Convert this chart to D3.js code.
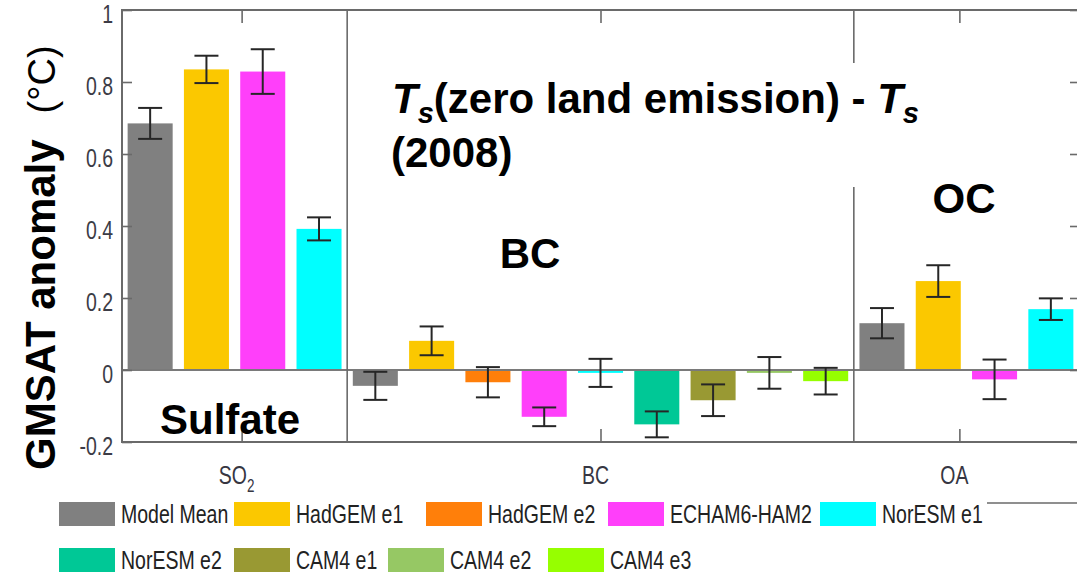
<!DOCTYPE html>
<html>
<head>
<meta charset="utf-8">
<script src="https://cdn.jsdelivr.net/npm/d3@7"></script>
<style>
  body { margin: 0; background: #fff; }
  svg { display: block; }
</style>
</head>
<body>
<svg id="chart" width="1077" height="577"></svg>
<script>
// ---- data -------------------------------------------------------------
const models = ["Model Mean", "HadGEM e1", "HadGEM e2", "ECHAM6-HAM2", "NorESM e1",
                "NorESM e2", "CAM4 e1", "CAM4 e2", "CAM4 e3"];
const modelColors = ["#808080", "#fbc800", "#ff7f0a", "#ff3ffa", "#00ffff",
                     "#00c896", "#999933", "#96c864", "#96ff00"];

const categories = ["SO2", "BC", "OA"];
const yTicks = [-0.2, 0, 0.2, 0.4, 0.6, 0.8, 1];
const yTickLabels = ["-0.2", "0", "0.2", "0.4", "0.6", "0.8", "1"];

// SO2 (sulfate) experiment
const so2Models = ["Model Mean", "HadGEM e1", "ECHAM6-HAM2", "NorESM e1"];
const so2Values = [0.685, 0.835, 0.829, 0.392];
const so2Errors = [0.043, 0.038, 0.062, 0.032];

// BC experiment
const bcModels = models;
const bcValues = [-0.044, 0.081, -0.034, -0.130, -0.008, -0.151, -0.084, -0.008, -0.031];
const bcErrors = [0.039, 0.040, 0.042, 0.026, 0.039, 0.036, 0.044, 0.044, 0.037];

// OA (organic carbon) experiment
const oaModels = ["Model Mean", "HadGEM e1", "ECHAM6-HAM2", "NorESM e1"];
const oaValues = [0.130, 0.247, -0.026, 0.169];
const oaErrors = [0.042, 0.044, 0.055, 0.030];

// ---- layout -------------------------------------------------------------
const plot = { left: 122, right: 1079, top: 10, bottom: 442 };
const svg = d3.select("#chart");
const FONT = "'Liberation Sans', Arial, Helvetica, sans-serif";
const SQUEEZE = 0.78;   // narrow face used by the axis and legend labels

const groups = [
  { cat: "SO2", models: so2Models, values: so2Values, errors: so2Errors },
  { cat: "BC",  models: bcModels,  values: bcValues,  errors: bcErrors },
  { cat: "OA",  models: oaModels,  values: oaValues,  errors: oaErrors }
];
const bars = [];
groups.forEach(g => g.models.forEach((m, i) => bars.push({
  key: g.cat + "|" + m, cat: g.cat, model: m, value: g.values[i], err: g.errors[i]
})));

const x = d3.scaleBand()
  .domain(bars.map(d => d.key))
  .range([plot.left, plot.right])
  .paddingInner(0.2)
  .paddingOuter(0.1);

// category axis: one unit per experiment
const xCat = d3.scaleLinear().domain([2 / 3, 10 / 3]).range([plot.left, plot.right]);

const y = d3.scaleLinear().domain([-0.2, 1]).range([plot.bottom, plot.top]);

const color = d3.scaleOrdinal().domain(models).range(modelColors);

// ---- bars -------------------------------------------------------------
svg.append("g").selectAll("rect")
  .data(bars).join("rect")
  .attr("x", d => x(d.key))
  .attr("width", x.bandwidth())
  .attr("y", d => y(Math.max(0, d.value)))
  .attr("height", d => Math.abs(y(d.value) - y(0)))
  .attr("fill", d => color(d.model));

// zero line
svg.append("line")
  .attr("x1", plot.left).attr("x2", plot.right)
  .attr("y1", y(0)).attr("y2", y(0))
  .attr("stroke", "#7a7a7a").attr("stroke-width", 2);

// error bars
const capHalf = 12;
const eb = svg.append("g").attr("stroke", "#262626").attr("stroke-width", 2);
bars.forEach(d => {
  const cx = x(d.key) + x.bandwidth() / 2;
  const y1 = y(d.value + d.err), y2 = y(d.value - d.err);
  eb.append("line").attr("x1", cx).attr("x2", cx).attr("y1", y1).attr("y2", y2);
  eb.append("line").attr("x1", cx - capHalf).attr("x2", cx + capHalf).attr("y1", y1).attr("y2", y1);
  eb.append("line").attr("x1", cx - capHalf).attr("x2", cx + capHalf).attr("y1", y2).attr("y2", y2);
});

// group separators at the band boundaries
const sepPad = x.step() * x.paddingInner() / 2;
const separators = [x("BC|" + bcModels[0]) - sepPad, x("OA|" + oaModels[0]) - sepPad];
svg.append("g").selectAll("line").data(separators).join("line")
  .attr("x1", d => d).attr("x2", d => d)
  .attr("y1", plot.top).attr("y2", plot.bottom)
  .attr("stroke", "#6a6a6a").attr("stroke-width", 1.6);

// ---- axes -------------------------------------------------------------
const axisColor = "#6a6a6a";
function styleAxis(g) {
  g.select(".domain").remove();
  g.selectAll(".tick line").attr("stroke", axisColor).attr("stroke-width", 1.6);
}

const yAxis = svg.append("g")
  .attr("transform", `translate(${plot.left},0)`)
  .call(d3.axisLeft(y).tickValues(yTicks).tickSize(-10)
        .tickFormat((d, i) => yTickLabels[i]))
  .call(styleAxis);
yAxis.selectAll(".tick text")
  .attr("font-family", FONT).attr("font-size", 25).attr("fill", "#3c3c46")
  .attr("x", -9 / SQUEEZE).attr("dy", 12)
  .attr("transform", `scale(${SQUEEZE},1)`);

svg.append("g")
  .attr("transform", `translate(${plot.right},0)`)
  .call(d3.axisRight(y).tickValues(yTicks).tickSize(-9).tickFormat(""))
  .call(styleAxis);

svg.append("g")
  .attr("transform", `translate(0,${plot.top})`)
  .call(d3.axisTop(xCat).tickValues([1, 2, 3]).tickSize(-13).tickFormat(""))
  .call(styleAxis);

svg.append("g")
  .attr("transform", `translate(0,${plot.bottom})`)
  .call(d3.axisBottom(xCat).tickValues([1, 2, 3]).tickSize(-13).tickFormat(""))
  .call(styleAxis);

// category labels under the axis (SO2 with subscript)
categories.forEach((c, i) => {
  const g = svg.append("g")
    .attr("transform", `translate(${xCat(i + 1) - 5},484) scale(${SQUEEZE * 0.96},1)`);
  const t = g.append("text")
    .attr("font-family", FONT).attr("font-size", 26).attr("fill", "#363642")
    .attr("text-anchor", "middle");
  const m = c.match(/^([A-Z]+)(\d*)$/);
  t.append("tspan").text(m[1]);
  if (m[2]) t.append("tspan").attr("font-size", 18).attr("dy", 8).text(m[2]);
});

// plot frame
svg.append("path")
  .attr("d", `M${plot.right},${plot.top}H${plot.left}V${plot.bottom}H${plot.right}`)
  .attr("fill", "none").attr("stroke", axisColor).attr("stroke-width", 2);

// ---- y axis title -------------------------------------------------------
const yTitle = svg.append("text")
  .attr("transform", "translate(55,470) rotate(-90)")
  .attr("font-family", FONT).attr("fill", "#000");
yTitle.append("tspan").attr("font-weight", "bold").attr("font-size", 42).text("GMSAT anomaly");
yTitle.append("tspan").attr("font-size", 38).attr("dx", 26).text("(°C)");

// ---- annotations ---------------------------------------------------------
// white panel behind the formula
svg.append("rect")
  .attr("x", 380).attr("y", 63).attr("width", 565).attr("height", 124)
  .attr("fill", "#fff");

const formula = svg.append("text")
  .attr("x", 392).attr("y", 113)
  .attr("font-family", FONT).attr("font-weight", "bold").attr("font-size", 42).attr("fill", "#000");
formula.append("tspan").attr("font-style", "italic").text("T");
formula.append("tspan").attr("font-style", "italic").attr("font-size", 29).attr("dy", 10).text("s");
formula.append("tspan").attr("dy", -10).text("(zero land emission) - ");
formula.append("tspan").attr("font-style", "italic").text("T");
formula.append("tspan").attr("font-style", "italic").attr("font-size", 29).attr("dy", 10).text("s");

svg.append("text")
  .attr("x", 391).attr("y", 167)
  .attr("font-family", FONT).attr("font-weight", "bold").attr("font-size", 42).attr("fill", "#000")
  .text("(2008)");

const labels = [
  { text: "Sulfate", cx: 230, base: 434 },
  { text: "BC", cx: 530, base: 268 },
  { text: "OC", cx: 964, base: 213 }
];
svg.append("g").selectAll("text").data(labels).join("text")
  .attr("x", d => d.cx).attr("y", d => d.base)
  .attr("text-anchor", "middle")
  .attr("font-family", FONT).attr("font-weight", "bold").attr("font-size", 42).attr("fill", "#000")
  .text(d => d.text);

// ---- legend -------------------------------------------------------------
const legendRows = [
  { y: 502, items: models.slice(0, 5), xs: [59, 234, 426, 608, 820] },
  { y: 548, items: models.slice(5),    xs: [59, 234, 388, 548] }
];
const swatchW = 56, swatchH = 24;
const legend = svg.append("g");
legendRows.forEach(row => {
  row.items.forEach((m, i) => {
    legend.append("rect")
      .attr("x", row.xs[i]).attr("y", row.y)
      .attr("width", swatchW).attr("height", swatchH)
      .attr("fill", color(m));
    legend.append("g")
      .attr("transform", `translate(${row.xs[i] + swatchW + 6},${row.y + 21}) scale(${SQUEEZE},1)`)
      .append("text")
      .attr("font-family", FONT).attr("font-size", 25).attr("fill", "#222")
      .text(m);
  });
});
legend.append("line")
  .attr("x1", 987).attr("x2", 1077).attr("y1", 503).attr("y2", 503)
  .attr("stroke", "#6a6a6a").attr("stroke-width", 1.5);
</script>
</body>
</html>
